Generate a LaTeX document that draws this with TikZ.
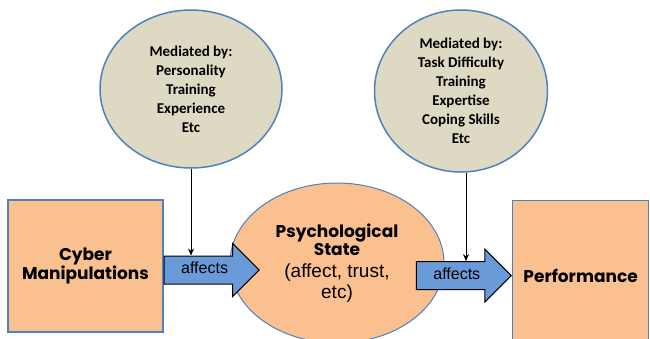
\documentclass[tikz,border=0pt]{standalone}
\usepackage{fontspec}
\setmainfont{Liberation Sans}
\newfontfamily\gothfont{Poppins}
\newfontfamily\calfont{Carlito}
\usetikzlibrary{shapes.geometric,shapes.arrows,positioning,arrows.meta}

\definecolor{peach}{HTML}{FAC08F}
\definecolor{edgeblue}{HTML}{4F81BD}
\definecolor{tanfill}{HTML}{DDD9C3}
\definecolor{arrowblue}{HTML}{6A9BD9}

\newcommand{\headfont}{\gothfont\bfseries\fontsize{17}{19}\selectfont}

\tikzset{
  block/.style={draw=edgeblue, line width=1.2pt, fill=peach, align=center,
    font=\headfont},
  mediator/.style={ellipse, draw=edgeblue, line width=1.5pt, fill=tanfill,
    align=center, inner sep=0pt, font=\calfont\bfseries\fontsize{15}{19}\selectfont},
  affarrow/.style={single arrow, draw=black, line width=1pt, fill=arrowblue,
    font=\fontsize{16}{18}\selectfont, single arrow head extend=12.5pt,
    minimum height=95pt, text height=10pt, text depth=3pt, inner ysep=7pt}
}

\begin{document}
\begin{tikzpicture}[x=1pt,y=-1pt,>={Stealth[length=7pt,width=6pt]}]
  \path[use as bounding box, clip] (0,0) rectangle (650,338);

  % Boxes at both ends
  \node[block, minimum width=155pt, minimum height=132pt] (cyber) at (85.5,266) {Cyber\\Manipulations};
  \node[block, minimum width=136pt, minimum height=150pt, anchor=north west] (perf) at (512,200) {Performance};

  % Middle state
  \node[block, ellipse, line width=1pt, minimum width=214pt, minimum height=160pt,
    font=\fontsize{19}{21}\selectfont] (psych) at (337,263)
    {{\headfont Psychological}\\[-3pt]{\headfont State}\\[1pt](affect, trust,\\etc)};

  % Block arrows
  \node[affarrow, anchor=tail] (affA) at ([yshift=-4pt]cyber.east) {affects};
  \node[affarrow, anchor=tip] (affB) at (perf.west) {affects};

  % Mediators
  \node[mediator, minimum width=182pt, minimum height=158pt] (medA) at (191,89)
    {Mediated by:\\Personality\\Training\\Experience\\Etc};
  \node[mediator, minimum width=173pt, minimum height=162pt] (medB) at (461,91)
    {Mediated by:\\Task Difficulty\\Training\\Expertise\\Coping Skills\\Etc};

  \draw[->, line width=1pt] (medA.south) -- (medA.south |- affA.north);
  \draw[->, line width=1pt] ([xshift=5pt]medB.south) -- ([xshift=5pt]medB.south |- affB.north);
\end{tikzpicture}
\end{document}
